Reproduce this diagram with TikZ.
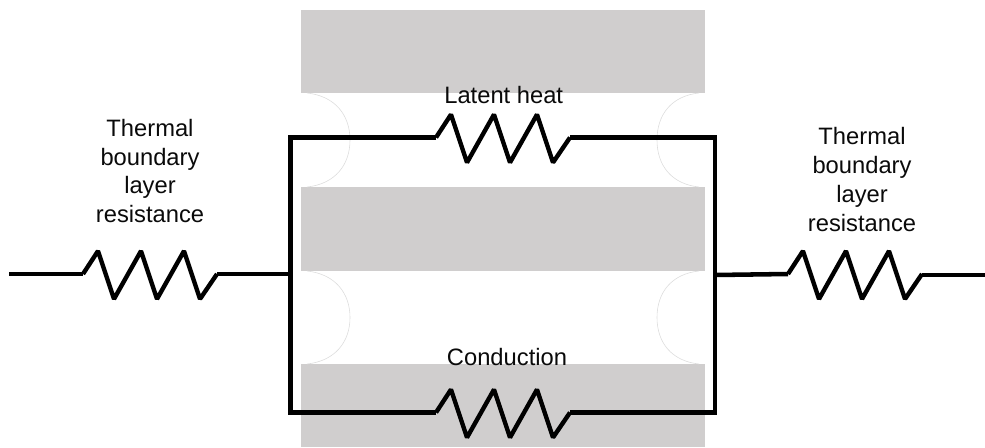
\documentclass[tikz,border=0pt]{standalone}
\usepackage{fontspec}
\setmainfont{Liberation Sans}
\definecolor{slab}{HTML}{D0CECE}
\definecolor{meniscus}{HTML}{DDDDDD}
\definecolor{ink}{HTML}{0A0A0A}
\tikzset{
  x=0.75pt,y=-0.75pt,
  slabbox/.style={fill=slab,draw=none,inner sep=0pt,minimum width=303pt,minimum height=#1},
  wire/.style={draw=black,line width=3.4pt,line join=miter,line cap=butt},
  thinwire/.style={draw=black,line width=3.3pt,line join=bevel,line cap=butt},
  heavywire/.style={draw=black,line width=4pt,line cap=butt},
  menisc/.style={draw=meniscus,line width=0.45pt},
  lbl/.style={font=\fontsize{17.8pt}{21.6pt}\selectfont,text=ink,inner sep=0pt},
  mlbl/.style={lbl,align=center},
  pics/zigzag/.style={code={
    \draw[thinwire,pic actions]
      (0,0)--(15,-23)--(31,25)--(58,-23)--(74,25)--(101,-23)--(117,25)--(134,0);
  }}
}
\begin{document}
\begin{tikzpicture}
\useasboundingbox (0,0) rectangle (985,447);
% slabs
\node[slabbox=62.25pt] (slabA) at (503,51.5) {};
\node[slabbox=63pt] (slabB) at (503,229) {};
\node[slabbox=62.25pt] (slabC) at (503,405.5) {};
% menisci
\draw[menisc] (307,93) .. controls (335,96) and (350,115) .. (350,140) .. controls (350,165) and (335,184) .. (307,187);
\draw[menisc] (699,93) .. controls (671,96) and (657,115) .. (657,140) .. controls (657,165) and (671,184) .. (699,187);
\draw[menisc] (307,271) .. controls (335,274) and (350,293) .. (350,317.5) .. controls (350,342) and (335,361) .. (307,364);
\draw[menisc] (699,271) .. controls (671,274) and (657,293) .. (657,317.5) .. controls (657,342) and (671,361) .. (699,364);
% junctions
\coordinate (tl) at (290.5,137.5);
\coordinate (tr) at (715,137.5);
\coordinate (bl) at (290.5,412.5);
\coordinate (br) at (715,412.5);
\coordinate (jl) at (290.5,274);
\coordinate (jr) at (715,275);
\coordinate (inL) at (9,274);
\coordinate (outR) at (985,275);
\coordinate (ra) at (83,274);
\coordinate (rb) at (217,274);
\coordinate (sa) at (436,137.5);
\coordinate (sb) at (570,137.5);
\coordinate (ca) at (436,412.5);
\coordinate (cb) at (570,412.5);
\coordinate (ha) at (380,412.5);
\coordinate (hb) at (626,412.5);
\coordinate (qa) at (788,274);
\coordinate (qb) at (922,275);
% circuit
\draw[wire] (sa) -- (tl) -- (bl) -- (ca);
\draw[wire] (sb) -- (tr) -- (br) -- (cb);
\draw[heavywire] (ha) -- (ca);
\draw[heavywire] (cb) -- (hb);
\draw[wire] (inL) -- (ra);
\draw[wire] (rb) -- (jl);
\draw[wire] (jr) -- (qa);
\draw[wire] (qb) -- (outR);
% resistors
\pic at (sa) {zigzag};
\pic at (ca) {zigzag};
\pic at (ra) {zigzag};
\pic at (qa) {zigzag};
% labels
\node[lbl,anchor=base] (latent) at (503.7,103) {Latent heat};
\node[lbl,anchor=base] (cond) at (507,365) {Conduction};
\node[mlbl] (left) at (150,171) {Thermal\\boundary\\layer\\resistance};
\node[mlbl] (right) at (862,179.5) {Thermal\\boundary\\layer\\resistance};
\end{tikzpicture}
\end{document}
